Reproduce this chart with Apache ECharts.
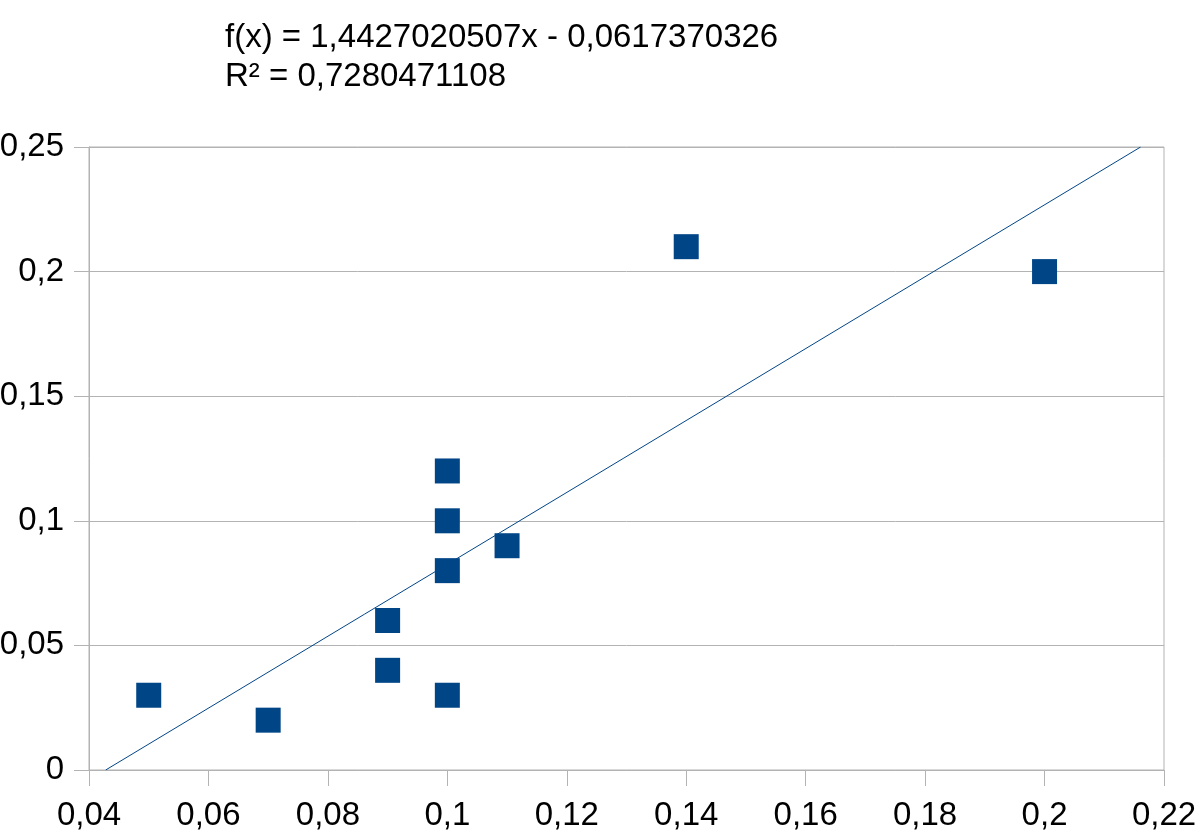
<!DOCTYPE html>
<html><head><meta charset="utf-8">
<script src="https://cdn.jsdelivr.net/npm/echarts@6/dist/echarts.min.js"></script>
<style>html,body{margin:0;padding:0;background:#fff}#c{width:1196px;height:836px}</style>
</head><body><div id="c"></div>
<script>
const xValues = [0.05, 0.07, 0.09, 0.09, 0.1, 0.1, 0.1, 0.1, 0.11, 0.14, 0.2];
const yValues = [0.03, 0.02, 0.06, 0.04, 0.12, 0.1, 0.08, 0.03, 0.09, 0.21, 0.2];
const slope = 1.4427020507;
const intercept = -0.0617370326;
const rSquared = 0.7280471108;
const equationLines = ['f(x) = 1,4427020507x - 0,0617370326', 'R² = 0,7280471108'];

const yMin = 0, yMax = 0.25;
const trend = [[(yMin - intercept) / slope, yMin], [(yMax - intercept) / slope, yMax]];
const points = xValues.map((x, i) => [x, yValues[i]]);
const fmt = v => String(+(+v).toFixed(4)).replace('.', ',');
const FONT = '"Liberation Sans", Arial, sans-serif';
const grey = '#b3b3b3';

const chart = echarts.init(document.getElementById('c'));
chart.setOption({
  animation: false,
  backgroundColor: '#fff',
  grid: { left: 89, right: 32, top: 147, bottom: 66, show: true, borderColor: grey, borderWidth: 1,
          containLabel: false, outerBoundsMode: 'none' },
  graphic: equationLines.map((t, i) => ({
    type: 'text', left: 225, top: 21 + i * 39,
    style: { text: t, font: '33px ' + FONT, fill: '#000' }
  })),
  xAxis: {
    type: 'value', min: 0.04, max: 0.22, interval: 0.02,
    axisLine: { show: true, lineStyle: { color: grey, width: 1 } },
    axisTick: { show: true, length: 16, lineStyle: { color: grey } },
    splitLine: { show: false },
    axisLabel: { formatter: fmt, fontSize: 33, fontFamily: FONT, color: '#000', margin: 29 }
  },
  yAxis: {
    type: 'value', min: 0, max: 0.25, interval: 0.05,
    axisLine: { show: true, lineStyle: { color: grey, width: 1 } },
    axisTick: { show: true, length: 15, lineStyle: { color: grey } },
    splitLine: { show: true, lineStyle: { color: grey, width: 1 } },
    axisLabel: { formatter: fmt, fontSize: 33, fontFamily: FONT, color: '#000', margin: 25 }
  },
  series: [
    { type: 'line', data: trend, symbol: 'none', lineStyle: { color: '#004586', width: 1 }, silent: true, z: 1 },
    { type: 'scatter', data: points, symbol: 'rect', symbolSize: 25, itemStyle: { color: '#004586', opacity: 1 }, z: 2 }
  ]
});
</script></body></html>
